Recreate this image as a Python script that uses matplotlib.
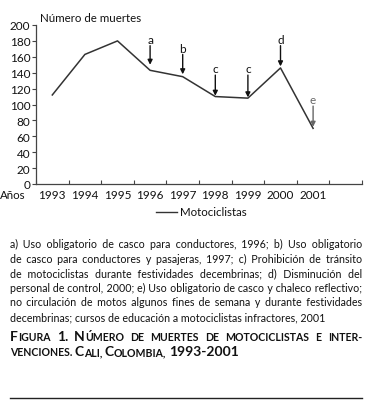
import matplotlib
matplotlib.use("Agg")
import matplotlib.pyplot as plt
from matplotlib.lines import Line2D
from matplotlib.font_manager import FontProperties

plt.rcParams['font.family'] = ['Lato', 'DejaVu Sans']

years = ['1993', '1994', '1995', '1996', '1997', '1998', '1999', '2000', '2001']
deaths = [112, 163, 180, 143, 135, 110, 108, 146, 70]

# interventions: letter, index of year, label height, arrow tip
marks = ['a', 'b', 'c', 'c', 'd', 'e']
mark_year = [3, 4, 5, 6, 7, 8]
mark_label = [182, 171, 145, 145, 182, 106]
mark_tip = [150, 138, 111, 109, 148, 72]
mark_color = ['#111111'] * 5 + ['#666666']

note_lines = [
    "a) Uso obligatorio de casco para conductores, 1996; b) Uso obligatorio",
    "de casco para conductores y pasajeras, 1997; c) Prohibición de tránsito",
    "de motociclistas durante festividades decembrinas; d) Disminución del",
    "personal de control, 2000; e) Uso obligatorio de casco y chaleco reflectivo;",
    "no circulación de motos algunos fines de semana y durante festividades",
    "decembrinas; cursos de educación a motociclistas infractores, 2001",
]

W, H = 372, 410
fig = plt.figure(figsize=(W / 100, H / 100), dpi=100)
ax = fig.add_axes([36 / W, 1 - 185 / H, 326 / W, 159 / H])

x = list(range(len(years)))
ax.plot(x, deaths, color='#333333', lw=1.1)

for m, i, ly, tip, c in zip(marks, mark_year, mark_label, mark_tip, mark_color):
    ax.text(i, ly, m, ha='center', va='center', fontsize=8.5, color=c)
    ax.annotate('', xy=(i, tip), xytext=(i, ly - 8),
                arrowprops=dict(arrowstyle='-|>', color=c, lw=1.0,
                                mutation_scale=7, shrinkA=0, shrinkB=0))

ax.set_xlim(-0.5, 9.5)
ax.set_ylim(0, 200)
ax.set_yticks(range(0, 201, 20))
ax.set_xticks([i + 0.5 for i in range(-1, 10)])
ax.set_xticklabels([])
for i, y in enumerate(years):
    ax.text(i, -6, y, ha='center', va='top', fontsize=8.5, color='#111111')
ax.tick_params(axis='x', direction='in', length=3, width=0.8, color='#444444')
ax.tick_params(axis='y', direction='out', length=3, width=0.8, color='#444444',
               labelsize=8.5, pad=1, labelcolor='#111111')
for s in ['top', 'right']:
    ax.spines[s].set_visible(False)
for s in ['left', 'bottom']:
    ax.spines[s].set_color('#444444')
    ax.spines[s].set_linewidth(0.9)

fig.text(40 / W, 1 - 18 / H, 'Número de muertes', fontsize=8.3, va='center',
         color='#111111')
fig.text(0 / W, 1 - 196 / H, 'Años', fontsize=8.3, va='center', color='#111111')

# legend
fig.add_artist(Line2D([156 / W, 177 / W], [1 - 213 / H] * 2, color='#333333',
                      lw=1.0, transform=fig.transFigure))
fig.text(180 / W, 1 - 213 / H, 'Motociclistas', fontsize=8.3, va='center',
         color='#111111')

renderer = fig.canvas.get_renderer()
FAM = ['Lato', 'DejaVu Sans']
COL_W = 352


def text_w(s, pt, bold=False):
    prop = FontProperties(family=FAM, size=pt, weight='bold' if bold else 'normal')
    w, h, d = renderer.get_text_width_height_descent(s, prop, ismath=False)
    return w


def justify(line, pt, width_px):
    # pad the word gaps with hair spaces so one text fills the column
    words = line.split(' ')
    w0 = text_w(line, pt)
    hs = text_w('a\u200aa', pt) - text_w('aa', pt)
    if hs < 0.3:
        return line
    n = len(words) - 1
    N = max(0, int(round((width_px - w0) / hs)))
    out = words[0]
    for i in range(1, len(words)):
        k = (N * i) // n - (N * (i - 1)) // n
        out += ' ' + '\u200a' * k + words[i]
    return out


# largest size at which every line fits the column
note_pt = 8.0
while max(text_w(ln, note_pt) for ln in note_lines) > COL_W - 1:
    note_pt -= 0.05

note_y = [248, 263, 277, 292, 306, 321]
for k, (ln, yb) in enumerate(zip(note_lines, note_y)):
    s = justify(ln, note_pt, COL_W) if k < len(note_lines) - 1 else ln
    fig.text(10 / W, 1 - yb / H, s, fontsize=note_pt, va='baseline',
             color='#111111')


def smallcaps(word, big=10.0, small=7.6, lead=True):
    pieces = []
    if lead:
        pieces.append((word[0], big))
        rest = word[1:]
    else:
        rest = word
    if rest:
        pieces.append((rest.upper(), small))
    return pieces


def draw_caps(words, ybase, left=10, right=362, justify_line=True):
    widths = [sum(text_w(s, pt, True) for s, pt in w) for w in words]
    if justify_line:
        gap = (right - left - sum(widths)) / (len(words) - 1)
    else:
        gap = text_w('A A', 7.6, True) - text_w('AA', 7.6, True)
    xp = left
    for w in words:
        for s, pt in w:
            fig.text(xp / W, 1 - ybase / H, s, fontsize=pt, fontweight='bold',
                     va='baseline', color='#111111')
            xp += text_w(s, pt, True)
        xp += gap


title1 = [smallcaps('Figura'), [('1.', 10.0)], smallcaps('Número'),
          smallcaps('de', lead=False), smallcaps('muertes', lead=False),
          smallcaps('de', lead=False), smallcaps('motociclistas', lead=False),
          smallcaps('e', lead=False), smallcaps('inter-', lead=False)]
title2 = [smallcaps('venciones.', lead=False), smallcaps('Cali,'),
          smallcaps('Colombia,'), [('1993-2001', 10.0)]]
draw_caps(title1, 341)
draw_caps(title2, 356, justify_line=False)

fig.add_artist(Line2D([10 / W, 362 / W], [1 - 399 / H] * 2, color='#222222',
                      lw=1.0, transform=fig.transFigure))

fig.savefig('out.png', dpi=100)
